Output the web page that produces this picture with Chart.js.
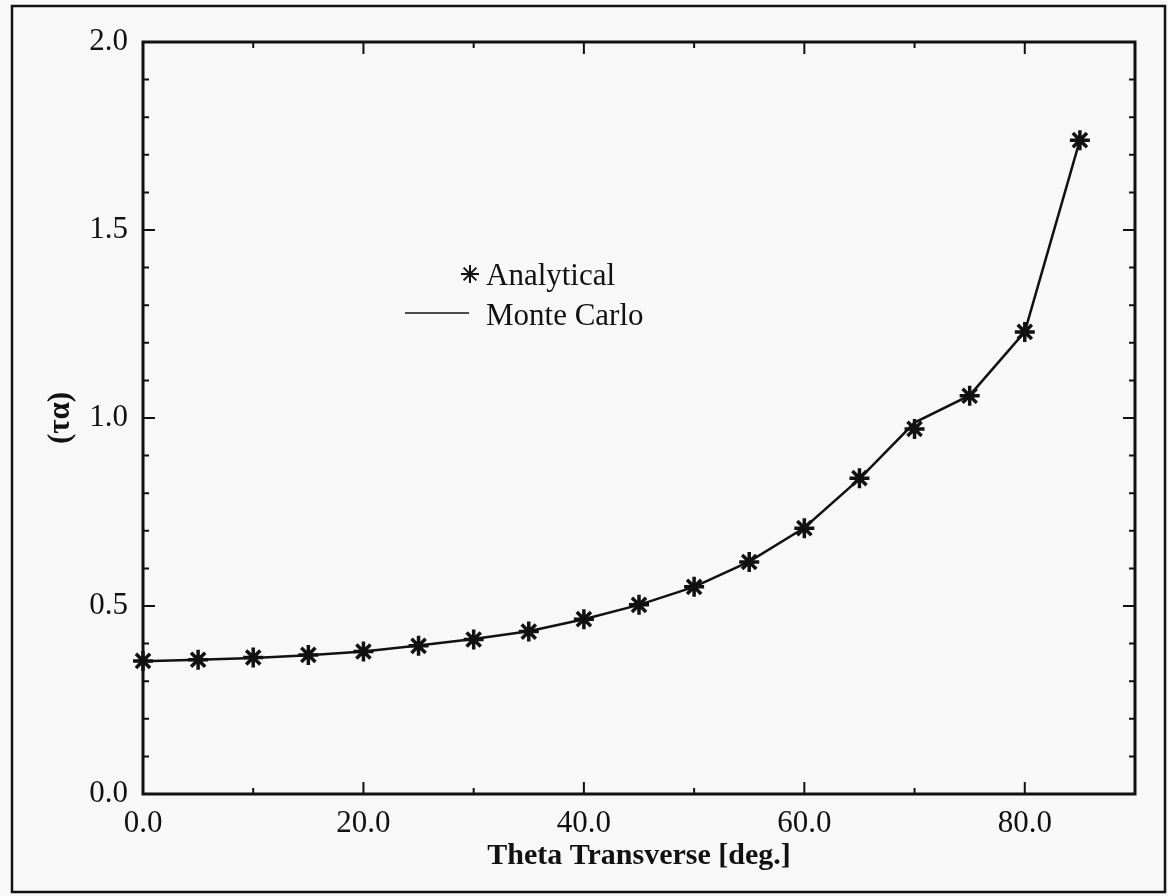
<!DOCTYPE html>
<html>
<head>
<meta charset="utf-8">
<script src="https://cdn.jsdelivr.net/npm/chart.js@4.4.1/dist/chart.umd.min.js"></script>
<style>
    html, body { margin: 0; padding: 0; background: #f8f8f8; }
    #wrap { width: 1168px; height: 896px; }
</style>
</head>
<body>
<div id="wrap"><canvas id="tauChart" width="1168" height="896"></canvas></div>
<script>
// Values
const thetaDeg = [0, 5, 10, 15, 20, 25, 30, 35, 40, 45, 50, 55, 60, 65, 70, 75, 80, 85];
const analytical = [0.354, 0.357, 0.363, 0.370, 0.379, 0.394, 0.411, 0.432, 0.465, 0.503, 0.551, 0.617, 0.707, 0.840, 0.971, 1.059, 1.229, 1.739];
const monteCarlo = [0.353, 0.357, 0.362, 0.369, 0.379, 0.395, 0.412, 0.433, 0.465, 0.503, 0.551, 0.618, 0.708, 0.838, 0.988, 1.060, 1.229, 1.739];
const xTickLabels = ['0.0', '20.0', '40.0', '60.0', '80.0'];
const yTickLabels = ['0.0', '0.5', '1.0', '1.5', '2.0'];

const serif = "'Liberation Serif', 'Times New Roman', serif";
const ink = '#111';

function labelFor(list, value) {
    const hit = list.find(l => Math.abs(parseFloat(l) - value) < 1e-6);
    return hit === undefined ? '' : hit;
}

// Frame, inward tick marks, box axes and the inset legend
const paperPlugin = {
    id: 'paper',
    beforeDraw(chart) {
        const ctx = chart.ctx;
        ctx.save();
        ctx.fillStyle = '#f8f8f8';
        ctx.fillRect(0, 0, chart.width, chart.height);
        ctx.restore();
    },
    afterDraw(chart) {
        const ctx = chart.ctx;
        const area = chart.chartArea;
        const xs = chart.scales.x;
        const ys = chart.scales.y;
        ctx.save();
        ctx.strokeStyle = ink;

        // outer frame
        ctx.lineWidth = 2.5;
        ctx.strokeRect(12, 6, 1153, 886);

        // plot box
        ctx.lineWidth = 3;
        ctx.strokeRect(area.left, area.top, area.right - area.left, area.bottom - area.top);

        // x ticks (bottom and top)
        ctx.lineWidth = 2;
        xs.ticks.forEach(t => {
            const px = xs.getPixelForValue(t.value);
            if (px <= area.left + 1 || px >= area.right - 1) return;
            const len = Math.abs(t.value % 20) < 1e-6 ? 12 : 6;
            ctx.beginPath();
            ctx.moveTo(px, area.bottom);
            ctx.lineTo(px, area.bottom - len);
            ctx.moveTo(px, area.top);
            ctx.lineTo(px, area.top + len);
            ctx.stroke();
        });

        // y ticks (left and right)
        ys.ticks.forEach(t => {
            const py = ys.getPixelForValue(t.value);
            if (py <= area.top + 1 || py >= area.bottom - 1) return;
            const major = Math.abs(t.value * 2 - Math.round(t.value * 2)) < 1e-6;
            const len = major ? 12 : 6;
            ctx.beginPath();
            ctx.moveTo(area.left, py);
            ctx.lineTo(area.left + len, py);
            ctx.moveTo(area.right, py);
            ctx.lineTo(area.right - len, py);
            ctx.stroke();
        });

        // legend
        ctx.fillStyle = ink;
        ctx.strokeStyle = ink;
        Chart.helpers.drawPoint(ctx, { pointStyle: 'star', radius: 9, rotation: 0, borderWidth: 3 }, 470, 274);
        ctx.lineWidth = 1.5;
        ctx.beginPath();
        ctx.moveTo(405, 313);
        ctx.lineTo(469, 313);
        ctx.stroke();
        ctx.font = '31px ' + serif;
        ctx.textAlign = 'left';
        ctx.textBaseline = 'alphabetic';
        ctx.fillText('Analytical', 486, 285);
        ctx.fillText('Monte Carlo', 486, 325);
        ctx.restore();
    }
};

const ctx = document.getElementById('tauChart').getContext('2d');
const tauChart = new Chart(ctx, {
    type: 'scatter',
    data: {
        datasets: [{
            label: 'Monte Carlo',
            data: thetaDeg.map((x, i) => ({ x: x, y: monteCarlo[i] })),
            showLine: true,
            borderColor: ink,
            borderWidth: 2.5,
            pointRadius: 0,
            tension: 0,
            clip: false
        }, {
            label: 'Analytical',
            data: thetaDeg.map((x, i) => ({ x: x, y: analytical[i] })),
            showLine: false,
            pointStyle: 'star',
            pointRadius: 10,
            borderColor: ink,
            backgroundColor: ink,
            pointBorderWidth: 3.5,
            clip: false
        }]
    },
    options: {
        responsive: false,
        animation: false,
        events: [],
        layout: { padding: { left: 12, top: 42, right: 33, bottom: 0 } },
        plugins: {
            legend: { display: false },
            tooltip: { enabled: false }
        },
        scales: {
            x: {
                type: 'linear',
                min: 0,
                max: 90,
                grid: { display: false, drawTicks: false },
                border: { display: false },
                ticks: {
                    stepSize: 10,
                    autoSkip: false,
                    maxRotation: 0,
                    padding: 11,
                    color: ink,
                    font: { family: serif, size: 31 },
                    callback: v => labelFor(xTickLabels, v)
                },
                title: {
                    display: true,
                    text: 'Theta Transverse [deg.]',
                    color: ink,
                    font: { family: serif, size: 30, weight: 'bold' },
                    padding: { top: 0, bottom: 22 }
                },
                afterFit(scale) { scale.height = 102; }
            },
            y: {
                min: 0,
                max: 2,
                grid: { display: false, drawTicks: false },
                border: { display: false },
                ticks: {
                    stepSize: 0.1,
                    autoSkip: false,
                    padding: 15,
                    color: ink,
                    font: { family: serif, size: 31 },
                    callback: v => labelFor(yTickLabels, v)
                },
                title: {
                    display: true,
                    text: '(τα)',
                    color: ink,
                    font: { family: serif, size: 31, weight: 'bold' },
                    padding: { top: 30, bottom: 0 }
                },
                afterFit(scale) { scale.width = 131; }
            }
        }
    },
    plugins: [paperPlugin]
});
</script>
</body>
</html>
